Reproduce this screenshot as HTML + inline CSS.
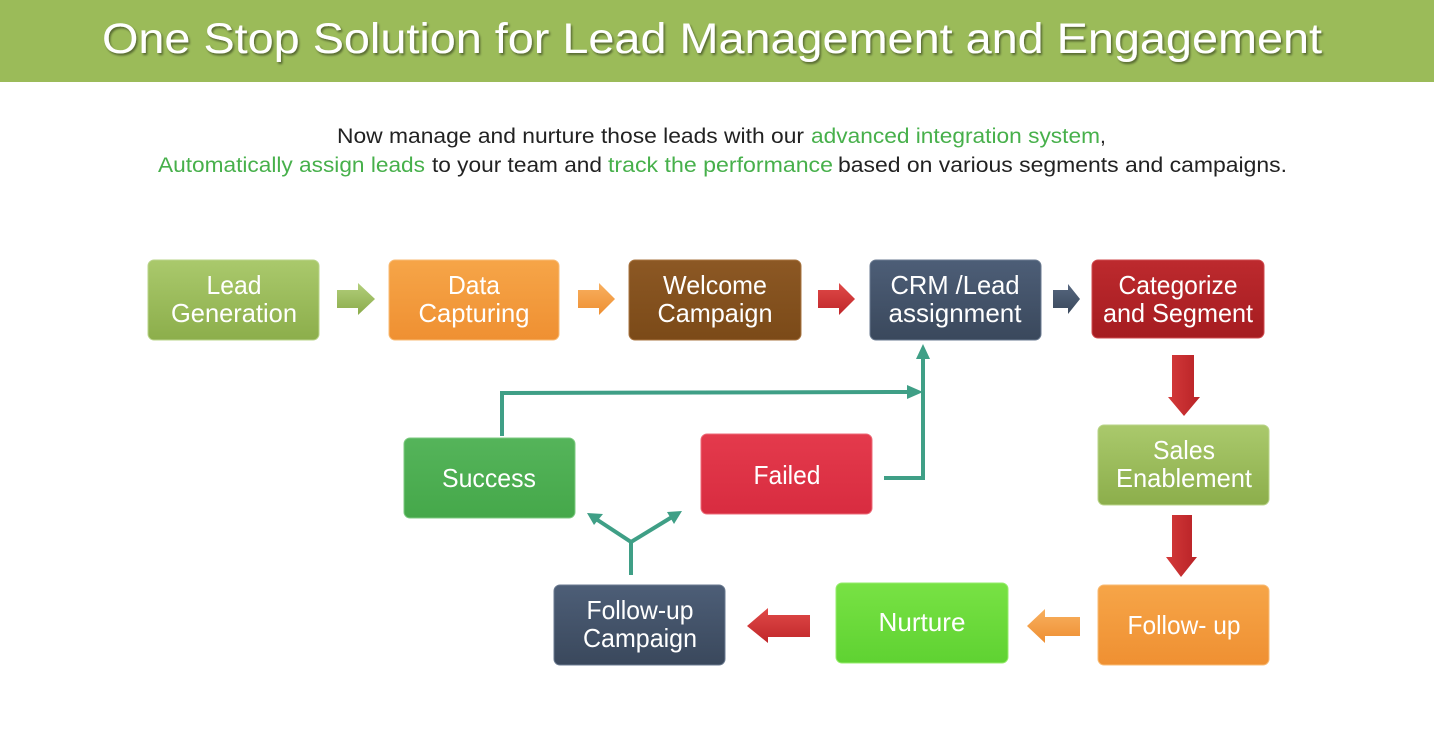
<!DOCTYPE html>
<html><head><meta charset="utf-8"><style>
html,body{margin:0;padding:0;background:#fff;}
svg{display:block;}
text{font-family:"Liberation Sans",sans-serif;}
</style></head><body>
<svg width="1434" height="741" viewBox="0 0 1434 741" xmlns="http://www.w3.org/2000/svg">
<defs>
<linearGradient id="gGreen" x1="0" y1="0" x2="0" y2="1"><stop offset="0" stop-color="#aac96c"/><stop offset="1" stop-color="#8cae4b"/></linearGradient>
<linearGradient id="gOrange" x1="0" y1="0" x2="0" y2="1"><stop offset="0" stop-color="#f6a548"/><stop offset="1" stop-color="#ef9032"/></linearGradient>
<linearGradient id="gBrown" x1="0" y1="0" x2="0" y2="1"><stop offset="0" stop-color="#8c5824"/><stop offset="1" stop-color="#7b4a18"/></linearGradient>
<linearGradient id="gSlate" x1="0" y1="0" x2="0" y2="1"><stop offset="0" stop-color="#4d5e77"/><stop offset="1" stop-color="#3a485c"/></linearGradient>
<linearGradient id="gDRed" x1="0" y1="0" x2="0" y2="1"><stop offset="0" stop-color="#bd2a2e"/><stop offset="1" stop-color="#a51c20"/></linearGradient>
<linearGradient id="gLime" x1="0" y1="0" x2="0" y2="1"><stop offset="0" stop-color="#78e244"/><stop offset="1" stop-color="#5fd232"/></linearGradient>
<linearGradient id="gSucc" x1="0" y1="0" x2="0" y2="1"><stop offset="0" stop-color="#55b45a"/><stop offset="1" stop-color="#45a84a"/></linearGradient>
<linearGradient id="gFail" x1="0" y1="0" x2="0" y2="1"><stop offset="0" stop-color="#e43a4c"/><stop offset="1" stop-color="#d82c40"/></linearGradient>
<linearGradient id="aGreen" x1="0" y1="0" x2="0" y2="1"><stop offset="0" stop-color="#b3cf7c"/><stop offset="1" stop-color="#8aab4a"/></linearGradient>
<linearGradient id="aOrange" x1="0" y1="0" x2="0" y2="1"><stop offset="0" stop-color="#f8b060"/><stop offset="1" stop-color="#ee8f32"/></linearGradient>
<linearGradient id="aRed" x1="0" y1="0" x2="0" y2="1"><stop offset="0" stop-color="#e04a48"/><stop offset="1" stop-color="#c0262a"/></linearGradient>
<linearGradient id="aSlate" x1="0" y1="0" x2="0" y2="1"><stop offset="0" stop-color="#56677f"/><stop offset="1" stop-color="#3a485c"/></linearGradient>
<linearGradient id="aRedV" x1="0" y1="0" x2="1" y2="0"><stop offset="0" stop-color="#d43a3a"/><stop offset="1" stop-color="#b82226"/></linearGradient>
<filter id="ts" x="-5%" y="-20%" width="110%" height="150%"><feDropShadow dx="1.5" dy="2" stdDeviation="1" flood-color="#000" flood-opacity="0.45"/></filter>
</defs>

<!-- header -->
<rect x="0" y="0" width="1434" height="82" fill="#9bbb59"/>
<text x="102" y="53" font-size="43" fill="#fff" textLength="1220" lengthAdjust="spacingAndGlyphs" filter="url(#ts)">One Stop Solution for Lead Management and Engagement</text>

<!-- subtitle -->
<g font-size="21">
<text x="337" y="143" fill="#222" textLength="467" lengthAdjust="spacingAndGlyphs">Now manage and nurture those leads with our</text>
<text x="811" y="143" fill="#47b04b" textLength="289" lengthAdjust="spacingAndGlyphs">advanced integration system</text>
<text x="1100" y="143" fill="#222">,</text>
<text x="158" y="172" fill="#47b04b" textLength="267" lengthAdjust="spacingAndGlyphs">Automatically assign leads</text>
<text x="432" y="172" fill="#222" textLength="170" lengthAdjust="spacingAndGlyphs">to your team and</text>
<text x="608" y="172" fill="#47b04b" textLength="225" lengthAdjust="spacingAndGlyphs">track the performance</text>
<text x="838" y="172" fill="#222" textLength="449" lengthAdjust="spacingAndGlyphs">based on various segments and campaigns.</text>
</g>

<!-- boxes -->
<g stroke-width="1">
<rect x="148" y="260" width="171" height="80" rx="6" fill="url(#gGreen)" stroke="#b9d48a"/>
<rect x="389" y="260" width="170" height="80" rx="6" fill="url(#gOrange)" stroke="#f8bb74"/>
<rect x="629" y="260" width="172" height="80" rx="6" fill="url(#gBrown)" stroke="#a87440"/>
<rect x="870" y="260" width="171" height="80" rx="6" fill="url(#gSlate)" stroke="#6a7a90"/>
<rect x="1092" y="260" width="172" height="78" rx="6" fill="url(#gDRed)" stroke="#cf4a4e"/>
<rect x="1098" y="425" width="171" height="80" rx="6" fill="url(#gGreen)" stroke="#b9d48a"/>
<rect x="1098" y="585" width="171" height="80" rx="6" fill="url(#gOrange)" stroke="#f8bb74"/>
<rect x="836" y="583" width="172" height="80" rx="6" fill="url(#gLime)" stroke="#96ec6c"/>
<rect x="554" y="585" width="171" height="80" rx="6" fill="url(#gSlate)" stroke="#6a7a90"/>
<rect x="404" y="438" width="171" height="80" rx="6" fill="url(#gSucc)" stroke="#7cca80"/>
<rect x="701" y="434" width="171" height="80" rx="6" fill="url(#gFail)" stroke="#ec6b78"/>
</g>

<!-- box labels -->
<g font-size="26" fill="#fff" text-anchor="middle">
<text x="234" y="294" textLength="55" lengthAdjust="spacingAndGlyphs">Lead</text>
<text x="234" y="322" textLength="126" lengthAdjust="spacingAndGlyphs">Generation</text>
<text x="474" y="294" textLength="52" lengthAdjust="spacingAndGlyphs">Data</text>
<text x="474" y="322" textLength="111" lengthAdjust="spacingAndGlyphs">Capturing</text>
<text x="715" y="294" textLength="104" lengthAdjust="spacingAndGlyphs">Welcome</text>
<text x="715" y="322" textLength="115" lengthAdjust="spacingAndGlyphs">Campaign</text>
<text x="955" y="294" textLength="129" lengthAdjust="spacingAndGlyphs">CRM /Lead</text>
<text x="955" y="322" textLength="133" lengthAdjust="spacingAndGlyphs">assignment</text>
<text x="1178" y="294" textLength="119" lengthAdjust="spacingAndGlyphs">Categorize</text>
<text x="1178" y="322" textLength="150" lengthAdjust="spacingAndGlyphs">and Segment</text>
<text x="1184" y="459" textLength="62" lengthAdjust="spacingAndGlyphs">Sales</text>
<text x="1184" y="487" textLength="136" lengthAdjust="spacingAndGlyphs">Enablement</text>
<text x="1184" y="634" textLength="113" lengthAdjust="spacingAndGlyphs">Follow- up</text>
<text x="922" y="631" textLength="87" lengthAdjust="spacingAndGlyphs">Nurture</text>
<text x="640" y="619" textLength="107" lengthAdjust="spacingAndGlyphs">Follow-up</text>
<text x="640" y="647" textLength="114" lengthAdjust="spacingAndGlyphs">Campaign</text>
<text x="489" y="487" textLength="94" lengthAdjust="spacingAndGlyphs">Success</text>
<text x="787" y="484" textLength="67" lengthAdjust="spacingAndGlyphs">Failed</text>
</g>

<!-- block arrows -->
<polygon points="337,290 358,290 358,283 375,299 358,315 358,308 337,308" fill="url(#aGreen)"/>
<polygon points="578,290 599,290 599,283 615,299 599,315 599,308 578,308" fill="url(#aOrange)"/>
<polygon points="818,290 839,290 839,283 855,299 839,315 839,308 818,308" fill="url(#aRed)"/>
<polygon points="1053,290 1068,290 1068,284 1080,299 1068,314 1068,308 1053,308" fill="url(#aSlate)"/>
<polygon points="1172,355 1194,355 1194,397 1200,397 1184,416 1168,397 1172,397" fill="url(#aRedV)"/>
<polygon points="1172,515 1192,515 1192,557 1197,557 1181,577 1166,557 1172,557" fill="url(#aRedV)"/>
<polygon points="1080,617 1045,617 1045,609 1027,626 1045,643 1045,636 1080,636" fill="url(#aOrange)"/>
<polygon points="810,615 768,615 768,608 747,626 768,643 768,637 810,637" fill="url(#aRed)"/>

<!-- teal connectors -->
<g stroke="#3f9f86" stroke-width="4" fill="none">
<polyline points="502,436 502,393 910,392"/>
<polyline points="884,478 923,478 923,358"/>
<polyline points="631,575 631,542 596,519"/>
<line x1="631" y1="542" x2="672" y2="517"/>
</g>
<g fill="#3f9f86">
<polygon points="907,385 923,392 907,399"/>
<polygon points="916,359 923,344 930,359"/>
<polygon points="587,513 603,514 594,525"/>
<polygon points="682,511 674,524 667,512"/>
</g>
</svg>
</body></html>
